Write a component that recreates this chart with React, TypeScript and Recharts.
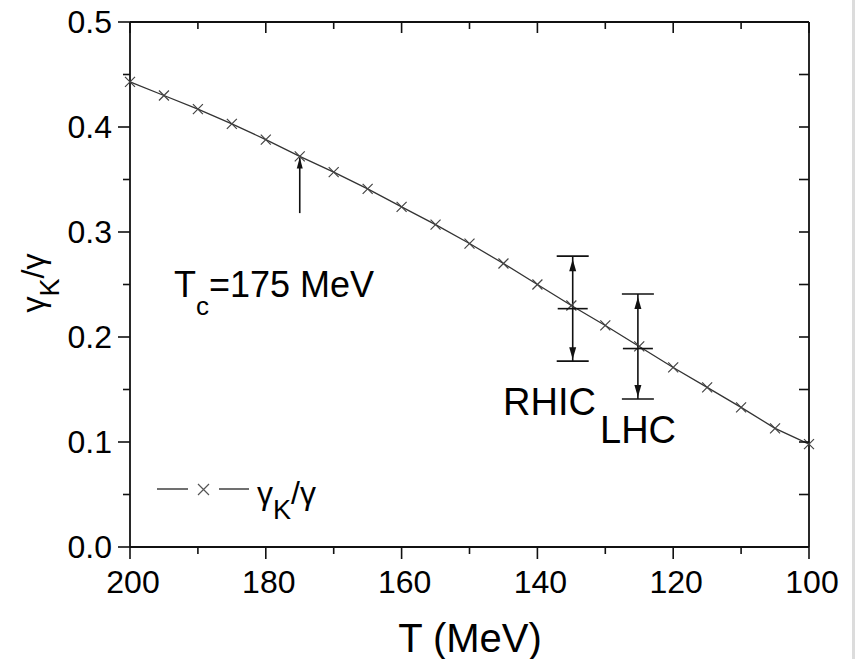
import React from 'react'
import {
  ComposedChart, Line, Scatter, XAxis, YAxis, ReferenceLine
} from 'recharts'

// temperature grid (MeV) and gamma_K / gamma
const temps = [200, 195, 190, 185, 180, 175, 170, 165, 160, 155, 150, 145, 140, 135, 130, 125, 120, 115, 110, 105, 100]
const ratio = [0.443, 0.430, 0.417, 0.403, 0.388, 0.372, 0.357, 0.341, 0.324, 0.307, 0.289, 0.270, 0.250, 0.230, 0.211, 0.191, 0.171, 0.152, 0.133, 0.113, 0.098]

// RHIC / LHC ranges: position, lower, central, upper
const barNames = ['RHIC', 'LHC']
const barT = [134.8, 125.2]
const barLow = [0.177, 0.141]
const barMid = [0.227, 0.189]
const barHigh = [0.277, 0.241]

// arrow marking Tc = 175 MeV
const tcT = 175
const tcFrom = 0.318
const tcTo = 0.371

const xTicks = [200, 190, 180, 170, 160, 150, 140, 130, 120, 110, 100]
const yTicks = [0, 0.05, 0.1, 0.15, 0.2, 0.25, 0.3, 0.35, 0.4, 0.45, 0.5]

const FONT = '"Liberation Sans", Arial, Helvetica, sans-serif'
const INK = '#111'

const curve = temps.map((T, i) => ({ T, g: ratio[i] }))
const barPoints = barT.flatMap((T, i) => [
  { T, g: barHigh[i], kind: 'top', name: barNames[i] },
  { T, g: barMid[i], kind: 'mid', name: barNames[i] },
  { T, g: barLow[i], kind: 'bottom', name: barNames[i] },
])
const tcPoint = [{ T: tcT, g: tcTo, kind: 'tip' }]

const majorX = (v: number) => v % 20 === 0
const majorY = (v: number) => Math.round(v * 100) % 10 === 0

function BottomTick(props: any) {
  const { x, y, payload } = props
  const major = majorX(payload.value)
  return (
    <g>
      <line x1={x} y1={y} x2={x} y2={y + (major ? 12 : 7)} stroke={INK} strokeWidth={1.6} />
      {major && (
        <text x={x + 3} y={y + 46} textAnchor="middle" fontSize={32} fontFamily={FONT} fill="#000">
          {payload.value}
        </text>
      )}
    </g>
  )
}

function TopTick(props: any) {
  const { x, y, payload } = props
  const major = majorX(payload.value)
  return <line x1={x} y1={y} x2={x} y2={y + (major ? 11 : 7)} stroke={INK} strokeWidth={1.6} />
}

function LeftTick(props: any) {
  const { x, y, payload } = props
  const major = majorY(payload.value)
  return (
    <g>
      <line x1={x} y1={y} x2={x - (major ? 12 : 7)} y2={y} stroke={INK} strokeWidth={1.6} />
      {major && (
        <text x={x - 18} y={y + 11} textAnchor="end" fontSize={32} fontFamily={FONT} fill="#000">
          {payload.value.toFixed(1)}
        </text>
      )}
    </g>
  )
}

function RightTick(props: any) {
  const { x, y } = props
  return <line x1={x} y1={y} x2={x - 10} y2={y} stroke={INK} strokeWidth={1.6} />
}

const Cross = (props: any) => {
  const { cx, cy, index } = props
  if (cx == null || cy == null) return <g key={index} />
  const s = 5
  return (
    <path
      key={index}
      d={`M${cx - s},${cy - s}L${cx + s},${cy + s}M${cx - s},${cy + s}L${cx + s},${cy - s}`}
      stroke="#444"
      strokeWidth={1.2}
      fill="none"
    />
  )
}

function BarShape(props: any) {
  const { cx, cy, payload } = props
  const k = payload.kind
  if (k === 'mid') {
    return <line x1={cx - 15} y1={cy} x2={cx + 15} y2={cy} stroke={INK} strokeWidth={1.6} />
  }
  if (k === 'top') {
    return (
      <g>
        <line x1={cx - 16} y1={cy} x2={cx + 16} y2={cy} stroke={INK} strokeWidth={1.6} />
        <path d={`M${cx},${cy + 3}L${cx - 3.5},${cy + 15}L${cx + 3.5},${cy + 15}Z`} fill={INK} />
      </g>
    )
  }
  if (k === 'bottom') {
    return (
      <g>
        <line x1={cx - 16} y1={cy} x2={cx + 16} y2={cy} stroke={INK} strokeWidth={1.6} />
        <path d={`M${cx},${cy - 2}L${cx - 3.5},${cy - 14}L${cx + 3.5},${cy - 14}Z`} fill={INK} />
      </g>
    )
  }
  return <path d={`M${cx},${cy}L${cx - 3},${cy + 11}L${cx + 3},${cy + 11}Z`} fill={INK} />
}

export default function App() {
  return (
    <div style={{ position: 'absolute', left: 0, top: 0, width: 855, height: 659, background: '#fff' }}>
      <ComposedChart
        width={855}
        height={659}
        data={curve}
        margin={{ top: 21, right: 45, bottom: 0, left: 0 }}
      >
        <XAxis
          xAxisId={0}
          dataKey="T"
          type="number"
          domain={[100, 200]}
          reversed
          ticks={xTicks}
          interval={0}
          height={112}
          tickSize={0}
          tickMargin={0}
          tickLine={false}
          tick={<BottomTick />}
          axisLine={{ stroke: INK, strokeWidth: 1.8 }}
        />
        <XAxis
          xAxisId="top"
          orientation="top"
          dataKey="T"
          type="number"
          domain={[100, 200]}
          reversed
          ticks={xTicks}
          interval={0}
          height={1}
          tickSize={0}
          tickMargin={0}
          tickLine={false}
          tick={<TopTick />}
          axisLine={{ stroke: INK, strokeWidth: 1.8 }}
        />
        <YAxis
          yAxisId={0}
          type="number"
          domain={[0, 0.5]}
          ticks={yTicks}
          interval={0}
          width={130}
          tickSize={0}
          tickMargin={0}
          tickLine={false}
          tick={<LeftTick />}
          axisLine={{ stroke: INK, strokeWidth: 1.8 }}
        />
        <YAxis
          yAxisId="right"
          orientation="right"
          type="number"
          domain={[0, 0.5]}
          ticks={yTicks}
          interval={0}
          width={1}
          tickSize={0}
          tickMargin={0}
          tickLine={false}
          tick={<RightTick />}
          axisLine={{ stroke: INK, strokeWidth: 1.8 }}
        />
        {/* invisible twin series so the mirror (top/right) axes get drawn */}
        <Line
          xAxisId="top"
          yAxisId="right"
          dataKey="g"
          stroke="none"
          dot={false}
          activeDot={false}
          isAnimationActive={false}
        />
        <Line
          dataKey="g"
          type="linear"
          stroke="#333"
          strokeWidth={1.3}
          dot={Cross}
          activeDot={false}
          isAnimationActive={false}
        />
        {barT.map((T, i) => (
          <ReferenceLine
            key={barNames[i]}
            segment={[{ x: T, y: barLow[i] }, { x: T, y: barHigh[i] }]}
            stroke={INK}
            strokeWidth={1.6}
          />
        ))}
        <ReferenceLine
          segment={[{ x: tcT, y: tcFrom }, { x: tcT, y: tcTo }]}
          stroke={INK}
          strokeWidth={1.6}
        />
        <Scatter data={barPoints} dataKey="g" shape={BarShape} isAnimationActive={false} />
        <Scatter data={tcPoint} dataKey="g" shape={BarShape} isAnimationActive={false} />
      </ComposedChart>

      <svg
        width={855}
        height={659}
        style={{ position: 'absolute', left: 0, top: 0, pointerEvents: 'none' }}
        fontFamily={FONT}
        fill="#000"
      >
        {/* y axis title */}
        <text transform="translate(44,283) rotate(-90)" textAnchor="middle" fontSize={32}>
          γ<tspan fontSize={27} dy={15}>K</tspan><tspan dy={-15}>/γ</tspan>
        </text>
        {/* x axis title */}
        <text x={470} y={652} textAnchor="middle" fontSize={40}>T (MeV)</text>

        <text x={174} y={297} fontSize={36}>
          T<tspan fontSize={26} dy={18}>c</tspan><tspan dy={-18}>=175 MeV</tspan>
        </text>
        <text x={503} y={415} fontSize={38}>RHIC</text>
        <text x={600} y={443} fontSize={38}>LHC</text>

        {/* legend */}
        <line x1={157} y1={489} x2={188} y2={489} stroke="#222" strokeWidth={1.3} />
        <path d="M198,484L209,495M198,495L209,484" stroke="#555" strokeWidth={1.2} />
        <line x1={219} y1={489} x2={249} y2={489} stroke="#222" strokeWidth={1.3} />
        <text x={257} y={504} fontSize={32}>
          γ<tspan fontSize={27} dy={15}>K</tspan><tspan dy={-15}>/γ</tspan>
        </text>
      </svg>
      <div style={{ position: 'absolute', right: 0, top: 0, width: 3, height: 659, background: '#dcdcdc' }} />
    </div>
  )
}
